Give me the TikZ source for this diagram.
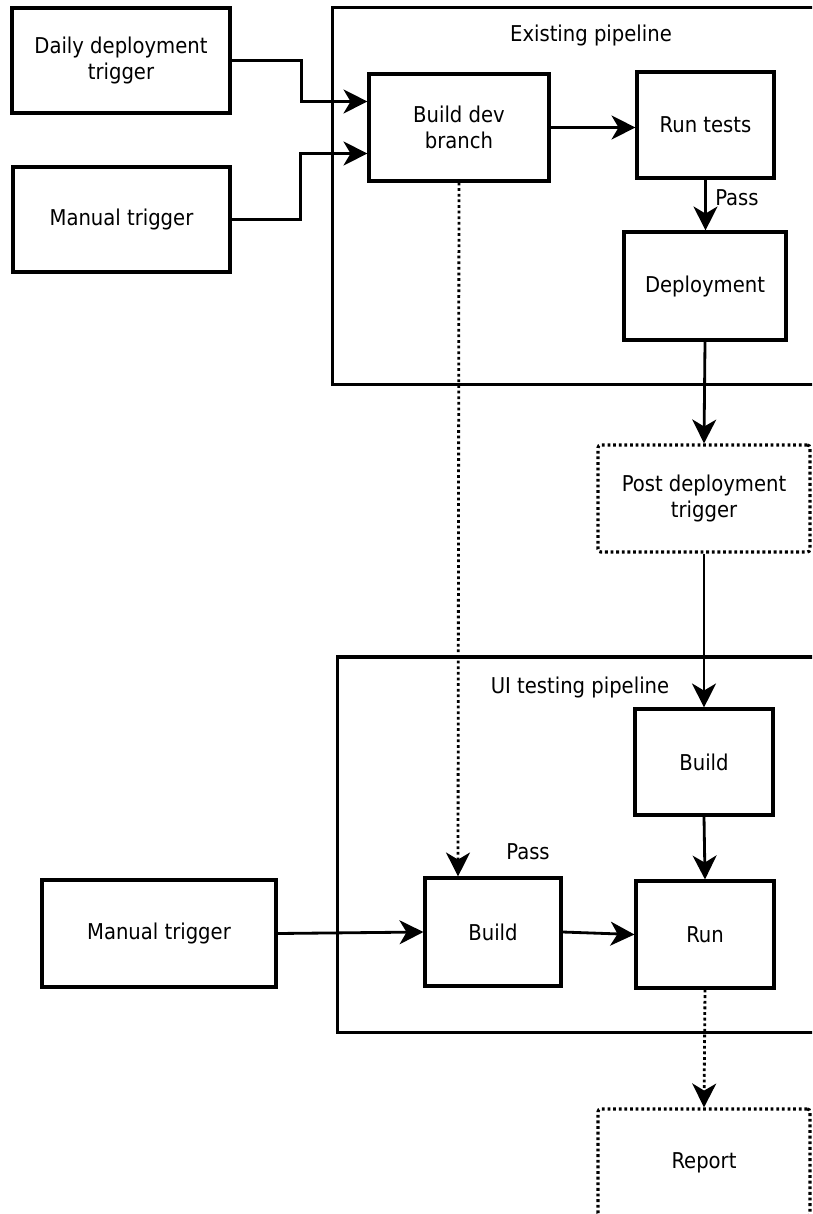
\documentclass[tikz,border=0pt]{standalone}
\usepackage{fontspec}
\setmainfont{DejaVu Sans Condensed}
\usetikzlibrary{arrows.meta,positioning}
\tikzstyle{arrow} = [line width=2pt,-{Stealth[length=17pt,width=17pt,inset=5pt]},draw=black]
\tikzstyle{dotarrow} = [arrow,dash pattern=on 2pt off 2pt]

\begin{document}
\begin{tikzpicture}[
        x=0.025cm,y=-0.025cm,
        font=\fontsize{15.5}{19}\selectfont,
        text centered,
        box/.style={draw,rectangle,line width=2.2pt,inner sep=0pt,align=center},
        dotbox/.style={box,rounded corners=2pt,dash pattern=on 2pt off 2pt},
        frame/.style={draw,rectangle,line width=2.2pt,inner sep=0pt},
        lbl/.style={inner sep=0pt}
        ]
        \useasboundingbox (0,0) rectangle (812,1214);
        \clip (0,0) rectangle (812,1214);
        % pipelines
        \node[frame,minimum width=12.675cm,minimum height=9.4cm] (exist) at (586.5,196) {};
        \node[frame,minimum width=12.55cm,minimum height=9.375cm] (uipipe) at (589,844.5) {};
        \node[lbl] (existlbl) at (591,35) {Existing pipeline};
        \node[lbl] (uilbl) at (580,687) {UI testing pipeline};
        % triggers
        \node[box,minimum width=5.45cm,minimum height=2.625cm] (daily) at (121,60.5) {Daily deployment\\trigger};
        \node[box,minimum width=5.425cm,minimum height=2.625cm] (man1) at (121.5,219.5) {Manual trigger};
        \node[box,minimum width=5.85cm,minimum height=2.675cm] (man2) at (159,933.5) {Manual trigger};
        % existing pipeline
        \node[box,minimum width=4.5cm,minimum height=2.675cm] (devb) at (459,127.5) {Build dev\\branch};
        \node[box,minimum width=3.425cm,minimum height=2.65cm] (tests) at (705.5,125) {Run tests};
        \node[box,minimum width=4.05cm,minimum height=2.7cm] (deploy) at (705,286) {Deployment};
        \node[dotbox,minimum width=5.3cm,minimum height=2.675cm] (post) at (704,498.5) {Post deployment\\trigger};
        % ui testing pipeline
        \node[box,minimum width=3.45cm,minimum height=2.65cm] (uib1) at (704,762) {Build};
        \node[box,minimum width=3.4cm,minimum height=2.7cm] (uib2) at (493,932) {Build};
        \node[box,minimum width=3.45cm,minimum height=2.675cm] (run) at (705,934.5) {Run};
        \node[dotbox,minimum width=5.3cm,minimum height=2.675cm] (report) at (704,1162.5) {Report};
        % connectors
        \draw[arrow] (daily.east) -- ++(70,0) |- ([yshift=0.65cm]devb.west);
        \draw[arrow] (man1.east) -- ++(69,0) |- ([yshift=-0.65cm]devb.west);
        \draw[arrow] (devb.east) -- (devb.east -| tests.west);
        \draw[arrow] (tests.south) -- node[lbl,pos=0.35,anchor=west,xshift=6pt] {Pass} (tests.south |- deploy.north);
        \draw[arrow] (deploy.south) -- (post.north);
        \draw[arrow] (post.south) -- (uib1.north);
        \draw[dotarrow] (devb.south) -- node[lbl,pos=0.964,xshift=1.75cm] {Pass} ([xshift=-0.875cm]uib2.north);
        \draw[arrow] (man2.east) -- (uib2.west);
        \draw[arrow] (uib2.east) -- (run.west);
        \draw[arrow] (uib1.south) -- (run.north);
        \draw[dotarrow] (run.south) -- (report.north);
    \end{tikzpicture}
\end{document}
